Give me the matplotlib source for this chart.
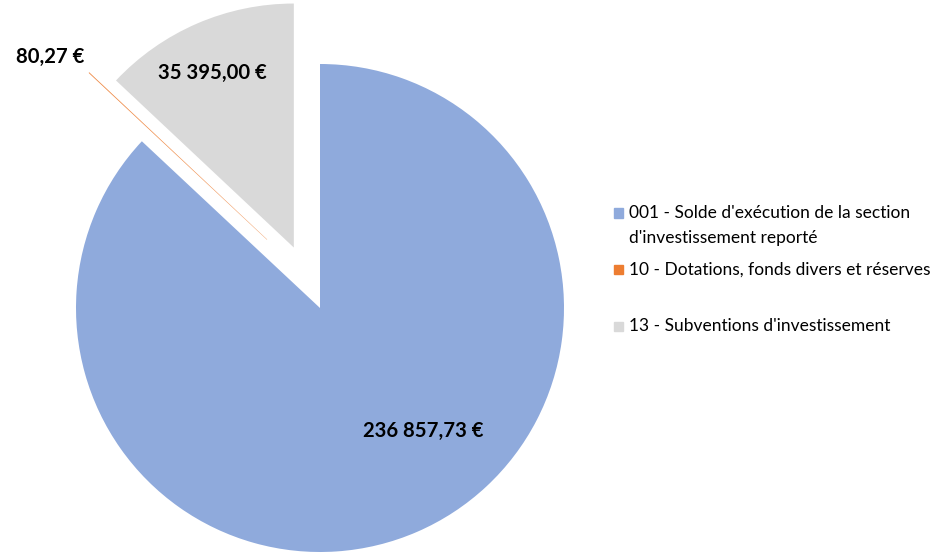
import numpy as np
import matplotlib.pyplot as plt
from matplotlib.patches import Rectangle

plt.rcParams['font.family'] = ['Lato', 'DejaVu Sans']

labels = ["001 - Solde d'exécution de la section\nd'investissement reporté",
          "10 - Dotations, fonds divers et réserves",
          "13 - Subventions d'investissement"]
values = [236857.73, 80.27, 35395.00]
colors = ['#8FAADC', '#ED7D31', '#D9D9D9']
explode = [0, 0.35, 0.27]
# small sideways nudge of the exploded slices (Excel puts the thin one mid-gap)
side = [0, 0.056, 0]

# label placement (radius, angle offset from slice middle, in degrees)
lab_r = [0.66, 1.06, 0.79]
lab_da = [16.5, -1.85, 1.5]
lab_ha = ['center', 'right', 'center']


def euro(v):
    s = f"{v:,.2f}".replace(",", " ").replace(".", ",")
    return s + " €"


fig = plt.figure(figsize=(9.47, 5.53), dpi=100)
ax = fig.add_axes([0, 0, 640/947, 1])
wedges, _ = ax.pie(values, colors=colors, explode=explode, startangle=90,
                   counterclock=False, wedgeprops=dict(linewidth=0))
ax.set_xlim(-320/244, 320/244)
ax.set_ylim(-245/244, 308/244)
ax.set_aspect('equal')
ax.axis('off')

for w, v, r, da, ha, s, c in zip(wedges, values, lab_r, lab_da, lab_ha, side, colors):
    mid = np.deg2rad((w.theta1 + w.theta2) / 2)
    cx, cy = w.center
    cx, cy = cx + s*np.sin(mid), cy - s*np.cos(mid)
    w.set_center((cx, cy))
    if v / sum(values) < 0.01:
        w.set_edgecolor(c)
        w.set_linewidth(0.3)
        w.set_alpha(0.7)
    a = mid + np.deg2rad(da)
    ax.text(cx + r*np.cos(a), cy + r*np.sin(a), euro(v), ha=ha, va='center',
            fontsize=14.6, fontweight='bold', color='black')

# legend drawn by hand so the marker sits on the first line
ly = [213, 270, 326]
for lab, c, y in zip(labels, colors, ly):
    fig.patches.append(Rectangle((614/947, 1 - (y+4.5)/553), 9/947, 9/553,
                                 transform=fig.transFigure, color=c))
    fig.text(629/947, 1 - (y-8)/553, lab, ha='left', va='top', fontsize=12.5,
             linespacing=1.72, color='black')

fig.savefig('out.png', dpi=100)
